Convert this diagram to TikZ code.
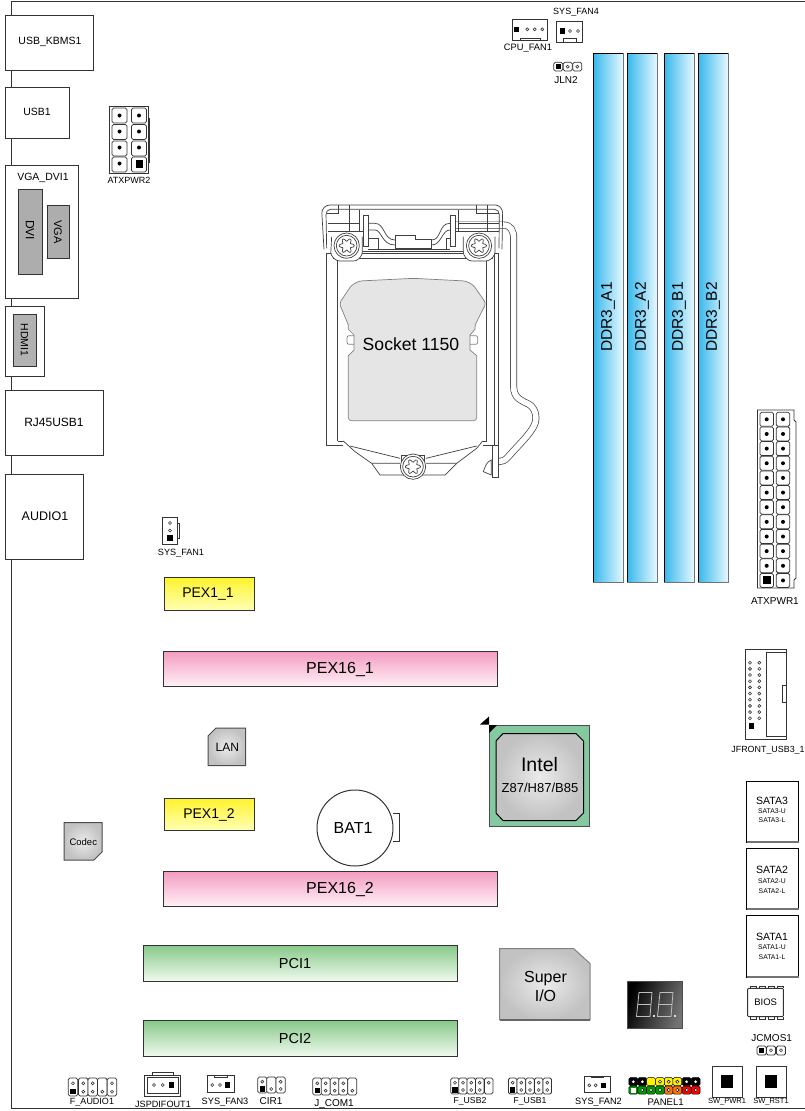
\documentclass[tikz,border=0pt]{standalone}
\usepackage{fontspec}
\setmainfont{Liberation Sans}
\usetikzlibrary{shapes.geometric}
\definecolor{ln}{HTML}{333333}
\definecolor{dimmleft}{HTML}{36B8EC}
\definecolor{dimmright}{HTML}{E8F8FF}
\definecolor{pinktop}{HTML}{F39BC0}
\definecolor{pinkbot}{HTML}{FFF0F6}
\definecolor{greentop}{HTML}{85C888}
\definecolor{greenbot}{HTML}{F0FAEE}
\definecolor{yeltop}{HTML}{FFF32A}
\definecolor{yelbot}{HTML}{FFFFB4}
\definecolor{chipgreen}{HTML}{85C9A0}
\newcommand{\fs}[1]{\fontsize{#1}{#1}\selectfont}
\tikzset{
 x=1pt,y=-1pt,
 box/.style={draw=ln,line width=1pt,fill=white},
 txt/.style={inner sep=0pt,text=black},
 cellbox/.style={draw=ln,line width=.75pt,rounded corners=1.6pt,fill=white},
 sockline/.style={draw=black!75,line width=.7pt},
 chipshade/.style={inner color=white!92!black,outer color=black!24},
}
\newcommand{\po}[2]{\draw[ln,line width=.6pt] (#1,#2) circle (1.5);}
\newcommand{\pd}[2]{\fill[black] (#1,#2) circle (2);}
\newcommand{\ps}[2]{\fill[black] ({#1-2.6},{#2-2.6}) rectangle ({#1+2.6},{#2+2.6});}
\newcommand{\cc}[4]{\draw[cellbox] ({#1-#4},#2) rectangle ({#1+#4},#3);}
\newcommand{\screw}[2]{%
 \draw[sockline,fill=white] (#1,#2) circle (38);
 \draw[sockline] (#1,#2) circle (31);
 \draw[sockline] plot[smooth cycle,samples=37,domain=0:350] ({#1+(18+5*cos(6*\x))*cos(\x)},{#2+(18+5*cos(6*\x))*sin(\x)});
}
\begin{document}
\begin{tikzpicture}
\useasboundingbox (0,0) rectangle (805,1111);
\fill[white] (0,0) rectangle (805,1111);
\draw[ln,line width=1pt] (805,1.5) -- (11,1.5) -- (11,1108) -- (805,1108);
% rear panel
\draw[box] (5,15) rectangle (93,70);
\node[txt,font=\fs{10.5}] (kbms) at (50,42) {USB\_KBMS1};
\draw[box] (5,87) rectangle (69,138);
\node[txt,font=\fs{10.5}] (usb1) at (37,112) {USB1};
\draw[box] (5,165) rectangle (78,298);
\node[txt,font=\fs{10.5}] (vgadvi) at (43,178) {VGA\_DVI1};
\draw[ln,fill=black!32,line width=1pt] (18,189) rectangle (42,274);
\draw[ln,fill=black!32,line width=1pt] (47,205) rectangle (69,258);
\node[txt,font=\fs{12},rotate=-90] (dvi) at (30,230) {DVI};
\node[txt,font=\fs{11},rotate=-90] (vga) at (58,232) {VGA};
\draw[box] (5.5,306.5) rectangle (44,376);
\draw[ln,fill=black!30,line width=1pt] (13.5,314) rectangle (36.5,366);
\node[txt,font=\fs{10.5},rotate=-90] (hdmi) at (24.5,340) {HDMI1};
\draw[box] (5,390) rectangle (103,455);
\node[txt,font=\fs{12}] (rj) at (54,422) {RJ45USB1};
\draw[box] (5,474) rectangle (83,559);
\node[txt,font=\fs{12.5}] (audio) at (45,516) {AUDIO1};
% ATXPWR2
\draw[ln,line width=.8pt] (109.5,106.5) rectangle (148,173);
\draw[ln,line width=.8pt] (148,118) -- (149.5,118) -- (149.5,162) -- (148,162);
\foreach \yy in {108,124.5,141,157}{
 \cc{119.5}{\yy}{{\yy+15}}{7.5}
 \cc{139}{\yy}{{\yy+15}}{7.5}}
\foreach \yy in {115.5,131.5,147.5,163.5}{\pd{119.5}{\yy}}
\foreach \yy in {115.5,131.5,147.5}{\pd{139}{\yy}}
\fill (135.5,160) rectangle (143,167.5);
\node[txt,font=\fs{9}] (atx2) at (129,180) {ATXPWR2};
% CPU_FAN1, SYS_FAN4, JLN2
\draw[ln,line width=.9pt] (512.7,19.5) rectangle (547.7,40.5);
\draw[ln,line width=.7pt] (520,38) rectangle (540,40.5);
\ps{516.7}{29.3}\po{527.3}{29.3}\po{534.7}{29.3}\po{542.3}{29.3}
\node[txt,font=\fs{9.3}] (cpufan) at (528,48) {CPU\_FAN1};
\draw[ln,line width=.9pt] (556.3,21.7) rectangle (582.3,42);
\draw[ln,line width=.7pt] (563,38.5) rectangle (576.7,42);
\ps{562.3}{31}\po{570}{31}\po{578}{31}
\node[txt,font=\fs{9}] (sys4) at (576,12.5) {SYS\_FAN4};
\foreach \xx in {558.3,567.7,577.3}{\cc{\xx}{62.3}{71}{4.5}}
\ps{558.3}{66.7}\po{567.7}{66.7}\po{577.3}{66.7}
\node[txt,font=\fs{10}] (jln) at (566,80) {JLN2};
% DIMM slots
\foreach \xa/\xb/\nm/\lb in {593/623/ddra/DDR3\_A1,627/657/ddrb/DDR3\_A2,664/694/ddrc/DDR3\_B1,698/728/ddrd/DDR3\_B2}{
 \shade[left color=dimmleft,right color=dimmright] (\xa,53) rectangle (\xb,582);
 \draw[black!55,line width=1pt] (\xb,53) -- (\xb,582) -- (\xa,582);
 \draw[black,line width=.9pt] (\xa,582) -- (\xa,53) -- (\xb,53);
 \node[txt,font=\fs{15.5},rotate=90] (\nm) at ({(\xa+\xb)/2},317) {\lb};
}
% socket
\begin{scope}[shift={(300,190)},x=.33333pt,y=-.33333pt]
 \draw[black!75,double=white,double distance=5.6pt,line width=.7pt]
  (467,105) -- (610,105) .. controls (632,105) and (641,122) .. (641,145) -- (641,590)
  .. controls (641,625) and (665,632) .. (685,642) .. controls (705,652) and (712,680) .. (705,700)
  .. controls (695,730) and (650,770) .. (625,800) .. controls (615,812) and (605,815) .. (595,815);
 % frame
 \fill[white] (80,190) rectangle (595,765);
 \draw[sockline] (130,765) -- (80,765) -- (80,190) -- (595,190) -- (595,765) -- (548,765);
 \draw[sockline] (113,205) -- (113,753) (560,205) -- (560,753) (113,753) -- (560,753) (582,190) -- (582,765);
 \draw[sockline] (113,185) -- (560,185) (100,205) -- (580,205);
 % top plate
 \draw[sockline,rounded corners=3pt] (72,178) -- (65,60) -- (80,45) -- (595,45) -- (608,60) -- (606,178);
 \draw[sockline,rounded corners=2pt] (80,175) -- (78,68) -- (85,58) -- (590,58) -- (598,68) -- (597,175);
 \draw[sockline] (115,45) -- (115,70) -- (80,70) (147,45) -- (147,125) (85,100) -- (178,100) (85,125) -- (190,125) (178,60) -- (178,125);
 \draw[sockline] (530,45) -- (530,70) -- (597,70) (562,45) -- (562,125) (475,60) -- (475,125) (475,100) -- (597,100) (467,125) -- (597,125);
 \draw[sockline,fill=white] (190,75) rectangle (205,168);
 \draw[sockline,fill=white] (450,75) rectangle (467,168);
 \draw[sockline] (205,100) -- (225,100) .. controls (255,100) and (250,150) .. (285,150);
 \draw[sockline] (205,120) -- (225,120) .. controls (245,120) and (245,165) .. (285,165);
 \draw[sockline] (395,150) .. controls (425,150) and (415,100) .. (450,100);
 \draw[sockline] (395,165) .. controls (425,165) and (425,120) .. (450,120);
 \draw[sockline] (205,145) -- (235,145) -- (235,178) (440,178) -- (440,145) -- (450,145);
 \draw[sockline,fill=white] (285,135) -- (345,135) -- (345,147) -- (395,147) -- (395,176) -- (285,176) -- cycle;
 \draw[sockline] (205,178) -- (450,178);
 % clips round the screws
 \draw[sockline,rounded corners=3pt,fill=white] (95,140) -- (92,195) -- (110,213) -- (170,213) -- (187,195) -- (187,140);
 \draw[sockline,rounded corners=3pt,fill=white] (490,140) -- (490,195) -- (507,213) -- (567,213) -- (585,195) -- (585,140);
 \screw{140}{167}
 \screw{537}{167}
 % die
 \draw[black!50,line width=.7pt,fill=black!10,rounded corners=3pt]
  (118,340) -- (155,285) -- (178,273) -- (340,265) -- (497,273) -- (520,285) -- (558,340) -- (525,405)
  [sharp corners] -- (525,418) -- (510,435) -- (510,480) -- (530,497) [rounded corners=3pt] -- (530,692) -- (145,692) [sharp corners] -- (145,497) -- (162,480) -- (162,435) -- (145,418) -- (145,405) [rounded corners=3pt] -- cycle;
 \draw[black!50,line width=.7pt,rounded corners=2pt] (162,437) -- (141,437) -- (141,463) -- (162,463);
 \draw[black!50,line width=.7pt,rounded corners=2pt] (510,437) -- (533,437) -- (533,463) -- (510,463);
 \node[txt,font=\fs{17.6}] (socket) at (333,463) {Socket 1150};
 % bottom part
 \draw[sockline,fill=white] (130,753) -- (165,785) -- (215,820) -- (240,855) -- (435,855) -- (470,820) -- (530,775) -- (548,753);
 \draw[sockline] (150,768) -- (300,805) (378,805) -- (530,768) (215,820) -- (300,820) (378,820) -- (470,820);
 \draw[sockline,fill=white] (305,795) rectangle (373,830);
 \screw{339}{830}
 % handle
 \draw[sockline,fill=white] (578,765) rectangle (595,863);
 \draw[sockline,fill=white] (574,810) .. controls (560,815) and (555,830) .. (550,845) -- (574,855) -- cycle;
\end{scope}
% ATXPWR1
\draw[ln,line width=.8pt,fill=white] (757.5,410) -- (794,410) -- (794,420) -- (796,422) -- (796,578) -- (794,580) -- (794,588) -- (757.5,588) -- cycle;
\foreach \i in {0,...,11}{
 \pgfmathsetmacro{\yy}{419.3+14.65*\i}
 \cc{766.7}{{\yy-7}}{{\yy+7}}{6.8}
 \cc{783}{{\yy-7}}{{\yy+7}}{6.8}
 \pd{783}{\yy}
 \ifnum\i<11 \pd{766.7}{\yy}\fi
}
\fill (762.7,576.3) rectangle (770.7,584.3);
\node[txt,font=\fs{10}] (atx1) at (775,601) {ATXPWR1};
% JFRONT
\draw[ln,line width=.8pt] (745,649.5) rectangle (786.7,739.5);
\draw[ln,line width=.8pt] (766.7,652.5) rectangle (786.7,736.7);
\draw[ln,line width=.7pt] (782.3,685) rectangle (786.7,702.7);
\foreach \i in {0,...,9}{
 \pgfmathsetmacro{\yy}{662.7+6.17*\i}
 \po{750}{\yy}\po{759.3}{\yy}
}
\fill (748.5,722.7) rectangle (754,728.7);
\node[txt,font=\fs{8.9}] (jf) at (768,750) {JFRONT\_USB3\_1};
% SYS_FAN1
\draw[ln,line width=.9pt] (162,517) rectangle (177,544);
\draw[ln,line width=.7pt] (177,523) rectangle (179,538);
\po{170}{523}\po{170}{530.5}\ps{170}{538}
\node[txt,font=\fs{9.1}] (sys1) at (181,553) {SYS\_FAN1};
% expansion slots
\shade[top color=yeltop,bottom color=yelbot] (164,577) rectangle (254,610);
\draw[ln,line width=1pt] (164,577) rectangle (254,610);
\node[txt,font=\fs{14}] (pex11) at (208,594) {PEX1\_1};
\shade[top color=yeltop,bottom color=yelbot] (164,798) rectangle (254,830);
\draw[ln,line width=1pt] (164,798) rectangle (254,830);
\node[txt,font=\fs{14}] (pex12) at (209,815) {PEX1\_2};
\shade[top color=pinktop,bottom color=pinkbot] (163,651) rectangle (497,686);
\draw[ln,line width=1pt] (163,651) rectangle (497,686);
\node[txt,font=\fs{16}] (pex161) at (340,669.5) {PEX16\_1};
\shade[top color=pinktop,bottom color=pinkbot] (163,871) rectangle (497,906);
\draw[ln,line width=1pt] (163,871) rectangle (497,906);
\node[txt,font=\fs{16}] (pex162) at (340,889.5) {PEX16\_2};
\shade[top color=greentop,bottom color=greenbot] (143,945) rectangle (457,981);
\draw[ln,line width=1pt] (143,945) rectangle (457,981);
\node[txt,font=\fs{14.5}] (pci1) at (295,963) {PCI1};
\shade[top color=greentop,bottom color=greenbot] (143,1020) rectangle (457,1056);
\draw[ln,line width=1pt] (143,1020) rectangle (457,1056);
\node[txt,font=\fs{14.5}] (pci2) at (295,1038) {PCI2};
% LAN, Codec
\shade[chipshade] (216,728) -- (245.5,728) -- (245.5,765.5) -- (208,765.5) -- (208,736) -- cycle;
\draw[black!70,line width=1pt] (216,728) -- (245.5,728) -- (245.5,765.5) -- (208,765.5) -- (208,736) -- cycle;
\node[txt,font=\fs{12}] (lan) at (227.3,747.5) {LAN};
\shade[chipshade] (64,822.5) -- (102,822.5) -- (102,852) -- (94,860) -- (64,860) -- cycle;
\draw[black!70,line width=1pt] (64,822.5) -- (102,822.5) -- (102,852) -- (94,860) -- (64,860) -- cycle;
\node[txt,font=\fs{9.5}] (codec) at (83.3,841.7) {Codec};
% battery
\draw[ln,line width=1pt] (393,813) -- (399,813) -- (399,841) -- (393,841);
\draw[ln,line width=1pt,fill=white] (355,828) circle (38);
\node[txt,font=\fs{16}] (bat) at (353,828) {BAT1};
% chipset
\fill[black] (480,724.5) -- (489,716.5) -- (489,724.5) -- cycle;
\draw[black!70,fill=chipgreen,line width=1pt] (489,725) rectangle (589,826.5);
\fill[black] (489,725) -- (497,725) -- (489,733) -- cycle;
\shade[chipshade] (503,733.5) -- (576,733.5) -- (583.5,741) -- (583.5,813) -- (576,820.5) -- (503,820.5) -- (496,813) -- (496,741) -- cycle;
\draw[black,line width=1pt] (503,733.5) -- (576,733.5) -- (583.5,741) -- (583.5,813) -- (576,820.5) -- (503,820.5) -- (496,813) -- (496,741) -- cycle;
\node[txt,font=\fs{19.5}] (intel) at (539.5,765) {Intel};
\node[txt,font=\fs{13}] (chipname) at (540,788) {Z87/H87/B85};
% Super IO
\shade[chipshade] (499.5,948.5) -- (573.5,948.5) -- (590,963.5) -- (590,1020) -- (499.5,1020) -- cycle;
\draw[black!50,line width=1pt] (499.5,1020) -- (499.5,948.5) -- (573.5,948.5) -- (590,963.5) -- (590,1020);
\draw[black!60,line width=1.4pt] (499.5,1020) -- (590,1020);
\node[txt,font=\fs{16}] (super) at (545.5,979) {Super};
\node[txt,font=\fs{16}] (superio) at (545.5,996) {I/O};
% 7 segment
\shade[left color=black,right color=black!55,shading angle=70] (627.5,981) rectangle (682.5,1028.5);
\draw[black!70,line width=1pt] (627.5,981) rectangle (682.5,1028.5);
\foreach \dx in {0,21}{
 \draw[white!75!black,line width=.8pt] ({\dx+639},992.5) -- ({\dx+652},992.5) -- ({\dx+650},1016.5) -- ({\dx+636.5},1016.5) -- cycle;
 \draw[white!75!black,line width=.8pt] ({\dx+638},1004.5) -- ({\dx+651},1004.5);
 \fill[white!85!black] ({\dx+653},1014.5) rectangle ({\dx+655},1017);
}
% SATA
\foreach \ya/\yb/\ta/\tb/\tc/\n in {781/842/801/810.7/820/3,848/909/870/880.7/890.7/2,915.7/977/936.7/947.3/956.7/1}{
 \draw[black,line width=1pt,fill=white] (746.5,\ya) rectangle (798.5,\yb);
 \draw[black!55,line width=1.2pt] (746.5,\yb) -- (798.5,\yb);
 \node[txt,font=\fs{10.5}] (sata\n) at (772,\ta) {SATA\n};
 \node[txt,font=\fs{6.8}] (satau\n) at (772,\tb) {SATA\n-U};
 \node[txt,font=\fs{6.8}] (satal\n) at (772,\tc) {SATA\n-L};
}
% BIOS
\foreach \xx in {750,759,768,777}{
 \draw[ln,line width=.7pt] (\xx,988) -- (\xx,986) -- ({\xx+6},986) -- ({\xx+6},988);
 \draw[ln,line width=.7pt] (\xx,1017) -- (\xx,1019) -- ({\xx+6},1019) -- ({\xx+6},1017);
}
\draw[ln,line width=1pt,rounded corners=1pt,fill=white] (747.7,988.3) rectangle (783.3,1016.7);
\node[txt,font=\fs{9.5}] (bios) at (765.7,1002.7) {BIOS};
% JCMOS1
\node[txt,font=\fs{10}] (jcmos) at (771.7,1038) {JCMOS1};
\foreach \xx in {761.7,771,781}{\cc{\xx}{1046}{1055}{4.6}}
\ps{761.7}{1050.3}\po{771}{1050.3}\po{781}{1050.3}
% F_AUDIO1
\foreach \xx in {73,83.3,92.7,102.3,112}{\cc{\xx}{1078}{1096}{4.8}}
\po{73}{1083.3}\ps{73}{1091.7}
\foreach \xx in {83.3,92.7,112}{\po{\xx}{1083.3}\po{\xx}{1091.7}}
\po{102.3}{1091.7}
\node[txt,font=\fs{9}] (faudio) at (92,1102) {F\_AUDIO1};
% JSPDIFOUT1
\draw[ln,line width=.9pt] (152,1075) -- (152,1072) -- (173,1072) -- (173,1075);
\draw[ln,line width=1pt] (144.5,1075) rectangle (180.5,1096);
\draw[ln,line width=.7pt] (147,1077.5) rectangle (178,1093.5);
\po{154}{1085}\po{162.7}{1085}\ps{171.7}{1085}
\node[txt,font=\fs{9.1}] (spdif) at (163,1104) {JSPDIFOUT1};
% SYS_FAN3
\draw[ln,line width=.9pt] (207.3,1075.7) rectangle (234,1092.7);
\draw[ln,line width=.7pt] (214,1075.7) rectangle (227.3,1077.5);
\po{212.3}{1085}\po{220}{1085}\ps{227.7}{1085}
\node[txt,font=\fs{9.2}] (sys3) at (225,1102) {SYS\_FAN3};
% CIR1
\foreach \xx in {262.3,271.3,280.7}{\cc{\xx}{1077}{1093}{4.6}}
\po{262.3}{1081.7}\ps{262.3}{1089}\po{271.3}{1089}\po{280.7}{1081.7}\po{280.7}{1089}
\node[txt,font=\fs{10}] (cir) at (271,1101) {CIR1};
% J_COM1
\foreach \xx in {317.3,325.7,334.7,343.3,352.3}{\cc{\xx}{1078}{1095}{4.5}}
\po{317.3}{1083.3}\ps{317.3}{1090.7}
\foreach \xx in {325.7,334.7,343.3}{\po{\xx}{1083.3}\po{\xx}{1090.7}}
\po{352.3}{1090.7}
\node[txt,font=\fs{10}] (jcom) at (334,1104) {J\_COM1};
% F_USB2
\foreach \xx in {455,463,471.3,479.7,488.7}{\cc{\xx}{1078}{1094}{4.3}}
\po{455}{1082.7}\ps{455}{1090}
\foreach \xx in {463,471.3,479.7}{\po{\xx}{1082.7}\po{\xx}{1090}}
\po{488.7}{1082.7}
\node[txt,font=\fs{8.7}] (fusb2) at (470,1101.5) {F\_USB2};
% F_USB1
\foreach \xx in {512.7,521.3,530,538.7,547.3}{\cc{\xx}{1078}{1094}{4.3}}
\po{512.7}{1082.7}\ps{512.7}{1090}
\foreach \xx in {521.3,530,538.7,547.3}{\po{\xx}{1082.7}\po{\xx}{1090}}
\node[txt,font=\fs{8.7}] (fusb1) at (530,1101.5) {F\_USB1};
% SYS_FAN2
\draw[ln,line width=.9pt] (584.3,1076) rectangle (610,1092.7);
\draw[ln,line width=.7pt] (591.5,1076) rectangle (603.5,1077.5);
\po{589.3}{1085.3}\po{595.7}{1085.3}\ps{603.7}{1085.3}
\node[txt,font=\fs{9.2}] (sys2) at (598.5,1102) {SYS\_FAN2};
% PANEL1
\foreach \xx/\cola/\colb [count=\i] in {633.3/black/green!60!black,642.3/black/green!60!black,651/yellow/green!60!black,660/yellow/green!60!black,668.7/yellow/orange!90!red,677.3/yellow/orange!90!red,686.7/black/red,695.7/black/red}{
 \draw[rounded corners=1.5pt,fill=\cola,draw=black,line width=.5pt] ({\xx-4.4},1077.5) rectangle ({\xx+4.4},1085.7);
 \draw[rounded corners=1.5pt,fill=\colb,draw=black,line width=.5pt] ({\xx-4.4},1086) rectangle ({\xx+4.4},1094.2);
 \draw[black,fill=white,line width=.4pt] (\xx,1090) circle (1.7);
 \ifnum\i=1 \fill[white] ({\xx-2.5},1087.5) rectangle ({\xx+2.5},1092.5);\fi
}
\foreach \xx in {633.3,642.3,686.7,695.7}{\fill[white] (\xx,1081.7) circle (1.5);}
\foreach \xx in {660,668.7,677.3}{\draw[black,fill=white,line width=.5pt] (\xx,1081.7) circle (1.6);}
\node[txt,font=\fs{9.6}] (panel) at (665.7,1102) {PANEL1};
% switches
\draw[ln,fill=white,line width=.8pt] (712,1066) rectangle (742,1097);
\fill (721,1075) rectangle (733,1088);
\node[txt,font=\fs{7.5}] (swp) at (727,1102) {SW\_PWR1};
\draw[ln,fill=white,line width=.8pt] (756,1066) rectangle (786,1097);
\fill (765,1075) rectangle (777,1088);
\node[txt,font=\fs{7.5}] (swr) at (771,1102) {SW\_RST1};
\end{tikzpicture}
\end{document}
